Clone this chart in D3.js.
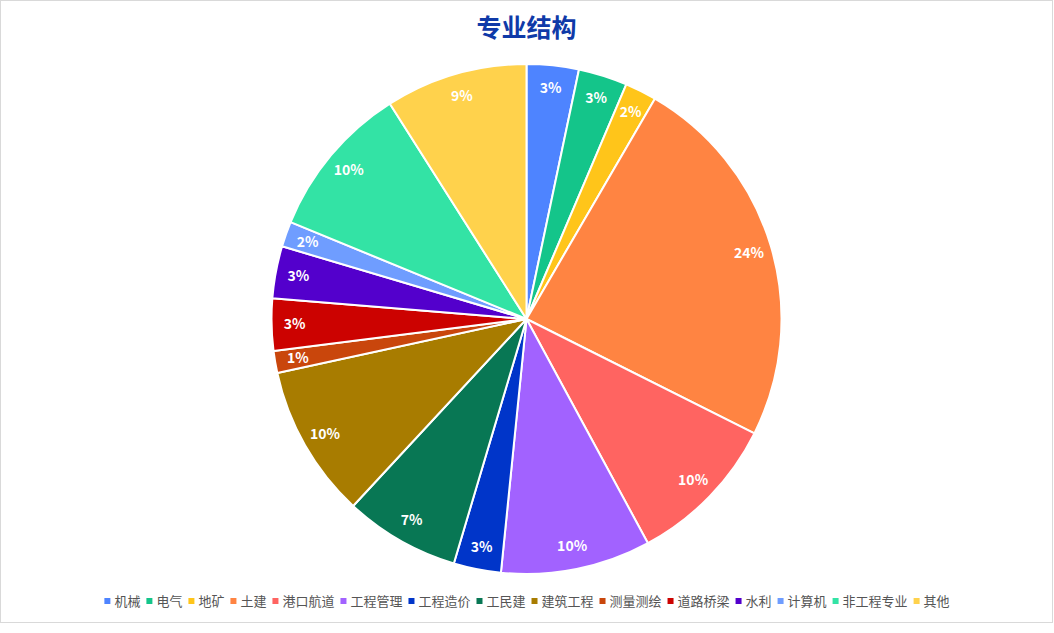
<!DOCTYPE html>
<html>
<head>
<meta charset="utf-8">
<script src="https://cdn.jsdelivr.net/npm/d3@7"></script>
<style>
  html, body { margin: 0; padding: 0; background: #fff; }
  svg { display: block; font-family: "Microsoft YaHei", "Noto Sans CJK SC", sans-serif; }
</style>
</head>
<body>
<div id="chart"></div>
<script>
const W = 1054;
const H = 633;
const CX = 526.5;
const CY = 319;
const R = 255;
const LABEL_R = 232;

// data
const categories = ["机械", "电气", "地矿", "土建", "港口航道", "工程管理", "工程造价", "工民建",
  "建筑工程", "测量测绘", "道路桥梁", "水利", "计算机", "非工程专业", "其他"];
const counts = [33, 31, 20, 240, 97, 95, 30, 73, 97, 14, 33, 33, 16, 98, 90];
const colors = ["#4e84ff", "#14c58a", "#ffc51a", "#ff8442", "#ff6461", "#a262ff", "#0035c9", "#087754",
  "#a87c00", "#c9460c", "#cc0200", "#5300cc", "#6f9dff", "#33e3a5", "#ffd24c"];

// whole percents that add up to 100 (largest remainder)
var percents = (vals) => {
  var total = d3.sum(vals);
  var raw = vals.map(v => v / total * 100);
  var out = raw.map(Math.floor);
  var left = 100 - d3.sum(out);
  var order = d3.range(vals.length).sort((a, b) => (raw[b] - out[b]) - (raw[a] - out[a]));
  for (var i = 0; i < left; i++) out[order[i]] += 1;
  return out;
}

var pct = percents(counts);
var data = categories.map((c, i) => ({ name: c, value: counts[i], color: colors[i], pct: pct[i] }));

var svg = d3.select("#chart").append("svg")
  .attr("width", W)
  .attr("height", H);

svg.append("rect")
  .attr("x", 0.5).attr("y", 0.5)
  .attr("width", 1052).attr("height", 622)
  .attr("fill", "#fff")
  .attr("stroke", "#d9d9d9");

svg.append("text")
  .text("专业结构")
  .attr("x", CX)
  .attr("y", 37)
  .attr("text-anchor", "middle")
  .attr("font-size", 25)
  .attr("font-weight", "bold")
  .attr("fill", "#0f3aa8");

var pie = d3.pie().value(d => d.value).sort(null);
var arc = d3.arc().innerRadius(0).outerRadius(R);
var labelArc = d3.arc().innerRadius(LABEL_R).outerRadius(LABEL_R);

var g = svg.append("g").attr("transform", `translate(${CX},${CY})`);
var arcs = pie(data);

g.selectAll("path.slice")
  .data(arcs)
  .enter()
  .append("path")
  .attr("class", "slice")
  .attr("d", arc)
  .attr("fill", d => d.data.color)
  .attr("stroke", "#fff")
  .attr("stroke-width", 2)
  .attr("stroke-linejoin", "round");

g.selectAll("text.pct")
  .data(arcs)
  .enter()
  .append("text")
  .attr("class", "pct")
  .text(d => d.data.pct + "%")
  .attr("transform", d => `translate(${labelArc.centroid(d)})`)
  .attr("text-anchor", "middle")
  .attr("dy", "0.35em")
  .attr("font-size", 14)
  .attr("font-weight", 600)
  .attr("fill", "#fff");

// legend, laid out in one centred row
var legend = svg.append("g");
var items = legend.selectAll("g.item")
  .data(data)
  .enter()
  .append("g")
  .attr("class", "item");

items.append("rect")
  .attr("width", 6)
  .attr("height", 6)
  .attr("y", -3)
  .attr("fill", d => d.color);

items.append("text")
  .text(d => d.name)
  .attr("x", 10)
  .attr("dy", "0.35em")
  .attr("font-size", 13)
  .attr("fill", "#555");

var x = 0;
items.each(function () {
  var item = d3.select(this);
  item.attr("transform", `translate(${x},0)`);
  x += 10 + item.select("text").node().getComputedTextLength() + 6;
});
x -= 6;
legend.attr("transform", `translate(${CX - x / 2 + 0.5},601)`);
</script>
</body>
</html>
